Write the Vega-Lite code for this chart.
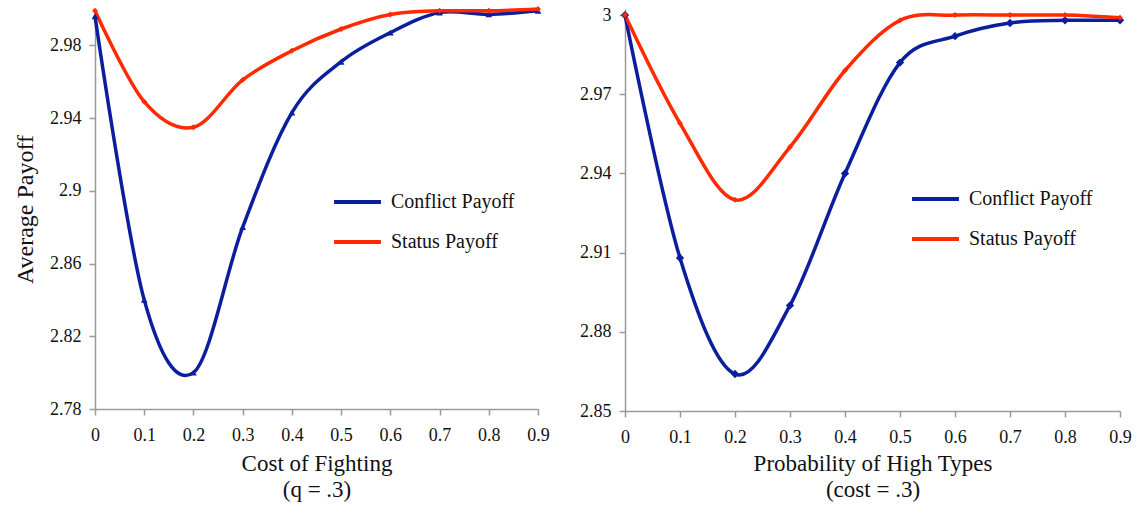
{
  "$schema": "https://vega.github.io/schema/vega-lite/v6.json",
  "padding": {"left": 13, "top": 2, "right": 10, "bottom": 2},
  "background": "white",
  "config": {
    "font": "Liberation Serif",
    "view": {"stroke": null},
    "axis": {
      "grid": false,
      "domainColor": "#9a9a9a",
      "domainWidth": 1.5,
      "tickColor": "#9a9a9a",
      "tickWidth": 1.5,
      "tickSize": 6,
      "labelFont": "Liberation Serif",
      "labelFontSize": 18,
      "labelColor": "#111",
      "titleFont": "Liberation Serif",
      "titleFontSize": 23,
      "titleFontWeight": "normal",
      "titleColor": "#111",
      "titleLineHeight": 26
    },
    "legend": {
      "labelFont": "Liberation Serif",
      "labelFontSize": 20,
      "labelColor": "#111",
      "symbolType": "stroke",
      "symbolStrokeWidth": 4,
      "symbolSize": 2200,
      "clipHeight": 36,
      "rowPadding": 4,
      "labelOffset": 8
    }
  },
  "datasets": {
    "left": [
      {"x": 0, "s": "Conflict Payoff", "v": 2.996},
      {"x": 0.1, "s": "Conflict Payoff", "v": 2.840},
      {"x": 0.2, "s": "Conflict Payoff", "v": 2.800},
      {"x": 0.3, "s": "Conflict Payoff", "v": 2.880},
      {"x": 0.4, "s": "Conflict Payoff", "v": 2.943},
      {"x": 0.5, "s": "Conflict Payoff", "v": 2.971},
      {"x": 0.6, "s": "Conflict Payoff", "v": 2.987},
      {"x": 0.7, "s": "Conflict Payoff", "v": 2.998},
      {"x": 0.8, "s": "Conflict Payoff", "v": 2.997},
      {"x": 0.9, "s": "Conflict Payoff", "v": 2.999},
      {"x": 0, "s": "Status Payoff", "v": 2.999},
      {"x": 0.1, "s": "Status Payoff", "v": 2.949},
      {"x": 0.2, "s": "Status Payoff", "v": 2.935},
      {"x": 0.3, "s": "Status Payoff", "v": 2.961},
      {"x": 0.4, "s": "Status Payoff", "v": 2.977},
      {"x": 0.5, "s": "Status Payoff", "v": 2.989},
      {"x": 0.6, "s": "Status Payoff", "v": 2.997},
      {"x": 0.7, "s": "Status Payoff", "v": 2.999},
      {"x": 0.8, "s": "Status Payoff", "v": 2.999},
      {"x": 0.9, "s": "Status Payoff", "v": 3.0}
    ],
    "right": [
      {"x": 0, "s": "Conflict Payoff", "v": 3.0},
      {"x": 0.1, "s": "Conflict Payoff", "v": 2.908},
      {"x": 0.2, "s": "Conflict Payoff", "v": 2.864},
      {"x": 0.3, "s": "Conflict Payoff", "v": 2.890},
      {"x": 0.4, "s": "Conflict Payoff", "v": 2.940},
      {"x": 0.5, "s": "Conflict Payoff", "v": 2.982},
      {"x": 0.6, "s": "Conflict Payoff", "v": 2.992},
      {"x": 0.7, "s": "Conflict Payoff", "v": 2.997},
      {"x": 0.8, "s": "Conflict Payoff", "v": 2.998},
      {"x": 0.9, "s": "Conflict Payoff", "v": 2.998},
      {"x": 0, "s": "Status Payoff", "v": 3.0},
      {"x": 0.1, "s": "Status Payoff", "v": 2.959},
      {"x": 0.2, "s": "Status Payoff", "v": 2.930},
      {"x": 0.3, "s": "Status Payoff", "v": 2.950},
      {"x": 0.4, "s": "Status Payoff", "v": 2.979},
      {"x": 0.5, "s": "Status Payoff", "v": 2.998},
      {"x": 0.6, "s": "Status Payoff", "v": 3.0},
      {"x": 0.7, "s": "Status Payoff", "v": 3.0},
      {"x": 0.8, "s": "Status Payoff", "v": 3.0},
      {"x": 0.9, "s": "Status Payoff", "v": 2.999}
    ]
  },
  "spacing": 29,
  "resolve": {
    "scale": {"color": "independent"},
    "legend": {"color": "independent"}
  },
  "hconcat": [
    {
      "width": 443,
      "height": 400,
      "data": {"name": "left"},
      "encoding": {
        "x": {
          "field": "x", "type": "quantitative",
          "scale": {"domain": [0, 0.9], "nice": false, "zero": false},
          "axis": {"values": [0, 0.1, 0.2, 0.3, 0.4, 0.5, 0.6, 0.7, 0.8, 0.9], "format": "~g", "labelFont": "Liberation Serif", "labelPadding": 11, "title": ["Cost of Fighting", "(q = .3)"], "titlePadding": 8, "labelFlush": false}
        },
        "y": {
          "field": "v", "type": "quantitative",
          "scale": {"domain": [2.78, 3.0], "nice": false, "zero": false},
          "axis": {"values": [2.78, 2.82, 2.86, 2.9, 2.94, 2.98], "format": "~g", "labelFont": "Liberation Serif", "labelPadding": 8, "title": "Average Payoff", "titleFontSize": 24, "titlePadding": 12}
        }
      },
      "layer": [
        {
          "mark": {"type": "line", "interpolate": "cardinal", "tension": 0, "strokeWidth": 3.5},
          "encoding": {
            "color": {
              "field": "s", "type": "nominal",
              "scale": {"domain": ["Conflict Payoff", "Status Payoff"], "range": ["#0b1e9e", "#ff2a00"]},
              "legend": {"title": null, "orient": "none", "legendX": 237, "legendY": 175, "symbolType": "stroke", "symbolStrokeWidth": 4, "symbolSize": 2200}
            }
          }
        },
        {
          "transform": [{"filter": "datum.s === 'Conflict Payoff'"}],
          "mark": {"type": "point", "filled": true, "opacity": 1, "shape": "triangle-up", "size": 45, "color": "#0b1e9e"}
        },
        {
          "transform": [{"filter": "datum.s === 'Status Payoff'"}],
          "mark": {"type": "point", "filled": true, "opacity": 1, "shape": "diamond", "size": 35, "color": "#ff2a00"}
        }
      ]
    },
    {
      "width": 495,
      "height": 402,
      "data": {"name": "right"},
      "encoding": {
        "x": {
          "field": "x", "type": "quantitative",
          "scale": {"domain": [0, 0.9], "nice": false, "zero": false},
          "axis": {"values": [0, 0.1, 0.2, 0.3, 0.4, 0.5, 0.6, 0.7, 0.8, 0.9], "format": "~g", "labelFont": "Liberation Serif", "labelPadding": 11, "title": ["Probability of High Types", "(cost = .3)"], "titlePadding": 6, "labelFlush": false}
        },
        "y": {
          "field": "v", "type": "quantitative",
          "scale": {"domain": [2.85, 3.0023], "nice": false, "zero": false},
          "axis": {"values": [2.85, 2.88, 2.91, 2.94, 2.97, 3.0], "format": "~g", "labelFont": "Liberation Serif", "labelPadding": 8, "title": null}
        }
      },
      "layer": [
        {
          "mark": {"type": "line", "interpolate": "cardinal", "tension": 0, "strokeWidth": 3.5},
          "encoding": {
            "color": {
              "field": "s", "type": "nominal",
              "scale": {"domain": ["Conflict Payoff", "Status Payoff"], "range": ["#0b1e9e", "#ff2a00"]},
              "legend": {"title": null, "orient": "none", "legendX": 285, "legendY": 172, "symbolType": "stroke", "symbolStrokeWidth": 4, "symbolSize": 2200}
            }
          }
        },
        {
          "transform": [{"filter": "datum.s === 'Conflict Payoff'"}],
          "mark": {"type": "point", "filled": true, "opacity": 1, "shape": "diamond", "size": 70, "color": "#0b1e9e"}
        },
        {
          "transform": [{"filter": "datum.s === 'Status Payoff'"}],
          "mark": {"type": "point", "filled": true, "opacity": 1, "shape": "diamond", "size": 35, "color": "#ff2a00"}
        }
      ]
    }
  ]
}
